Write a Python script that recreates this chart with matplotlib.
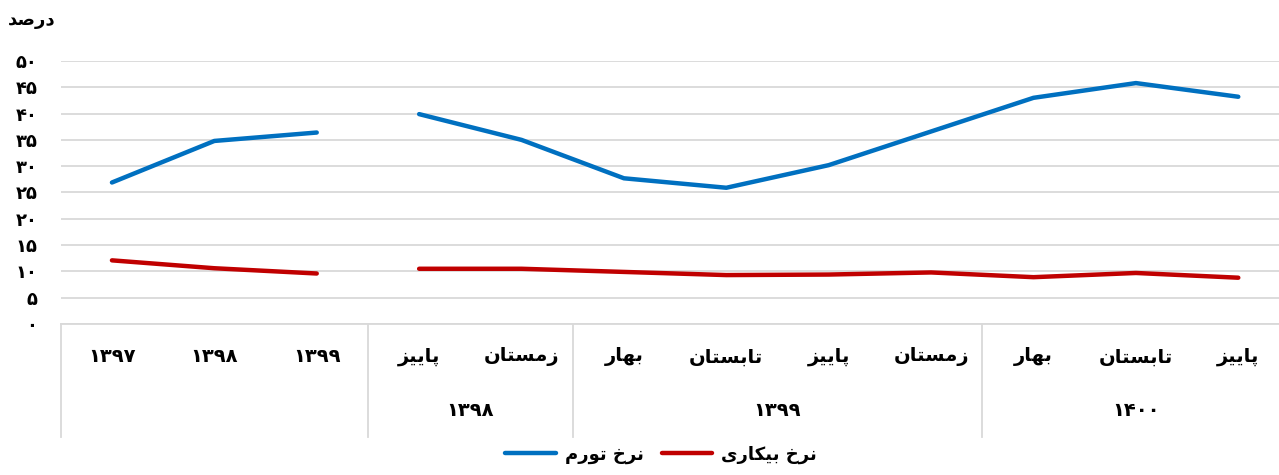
import matplotlib
matplotlib.use("Agg")
import matplotlib.pyplot as plt
from matplotlib.lines import Line2D

# data
annual_labels = ["1397", "1398", "1399"]
season_labels = ["پاییز", "زمستان", "بهار", "تابستان", "پاییز", "زمستان", "بهار", "تابستان", "پاییز"]
year_groups = [("1398", 3, 4), ("1399", 5, 8), ("1400", 9, 11)]
inflation_annual = [26.9, 34.8, 36.4]
inflation_season = [39.9, 35.0, 27.7, 25.9, 30.2, 36.6, 43.0, 45.8, 43.2]
unemployment_annual = [12.1, 10.6, 9.6]
unemployment_season = [10.5, 10.5, 9.9, 9.3, 9.4, 9.8, 8.9, 9.7, 8.8]
y_ticks = [0, 5, 10, 15, 20, 25, 30, 35, 40, 45, 50]
series_names = ["نرخ تورم", "نرخ بیکاری"]
y_title = "درصد"

BLUE = "#0070C0"
RED = "#C00000"
GRID = "#D9D9D9"

# matplotlib does no arabic shaping, so pick presentation forms by hand
FORMS = {
    "ا": ("\uFE8D", "\uFE8E", None, None),
    "ب": ("\uFE8F", "\uFE90", "\uFE91", "\uFE92"),
    "پ": ("\uFB56", "\uFB57", "\uFB58", "\uFB59"),
    "ت": ("\uFE95", "\uFE96", "\uFE97", "\uFE98"),
    "خ": ("\uFEA5", "\uFEA6", "\uFEA7", "\uFEA8"),
    "د": ("\uFEA9", "\uFEAA", None, None),
    "ر": ("\uFEAD", "\uFEAE", None, None),
    "ز": ("\uFEAF", "\uFEB0", None, None),
    "س": ("\uFEB1", "\uFEB2", "\uFEB3", "\uFEB4"),
    "ص": ("\uFEB9", "\uFEBA", "\uFEBB", "\uFEBC"),
    "ک": ("\uFB8E", "\uFB8F", "\uFB90", "\uFB91"),
    "م": ("\uFEE1", "\uFEE2", "\uFEE3", "\uFEE4"),
    "ن": ("\uFEE5", "\uFEE6", "\uFEE7", "\uFEE8"),
    "ه": ("\uFEE9", "\uFEEA", "\uFEEB", "\uFEEC"),
    "و": ("\uFEED", "\uFEEE", None, None),
    "ی": ("\uFBFC", "\uFBFD", "\uFBFE", "\uFBFF"),
}


def joins_left(ch):
    return ch in FORMS and FORMS[ch][2] is not None


def fa(text):
    out = []
    for i, ch in enumerate(text):
        if ch not in FORMS:
            out.append(ch)
            continue
        prev = text[i - 1] if i > 0 else ""
        nxt = text[i + 1] if i + 1 < len(text) else ""
        p = joins_left(prev)
        n = joins_left(ch) and nxt in FORMS
        iso, fin, ini, med = FORMS[ch]
        if p and n:
            out.append(med)
        elif n:
            out.append(ini)
        elif p:
            out.append(fin)
        else:
            out.append(iso)
    return "".join(reversed(out))


DIGITS = str.maketrans("0123456789", "۰۱۲۳۴۵۶۷۸۹")


def fa_num(s):
    return str(s).translate(DIGITS)


plt.rcParams["font.family"] = ["DejaVu Sans"]
plt.rcParams["font.weight"] = "bold"

fig = plt.figure(figsize=(12.79, 4.75), dpi=100)
ax = fig.add_axes([0.0475, 0.3179, 0.9607, 0.5537])

n_a = len(annual_labels)
xa = list(range(n_a))
xs = list(range(n_a, n_a + len(season_labels)))

l1, = ax.plot(xa, inflation_annual, color=BLUE, lw=3.2, solid_capstyle="round")
ax.plot(xs, inflation_season, color=BLUE, lw=3.2, solid_capstyle="round")
l2, = ax.plot(xa, unemployment_annual, color=RED, lw=3.2, solid_capstyle="round")
ax.plot(xs, unemployment_season, color=RED, lw=3.2, solid_capstyle="round")

ax.set_xlim(-0.5, n_a + len(season_labels) - 0.5)
ax.set_ylim(0, 50)
ax.set_yticks(y_ticks, [fa_num(v) for v in y_ticks], fontsize=13, fontweight="bold")
ax.set_xticks([])
ax.tick_params(axis="y", length=0, pad=17)
ax.yaxis.grid(True, color=GRID, lw=1.3)
ax.set_axisbelow(True)
for s in ["top", "right", "left"]:
    ax.spines[s].set_visible(False)
ax.spines["bottom"].set_color(GRID)
ax.spines["bottom"].set_linewidth(1.3)

trans = ax.get_xaxis_transform()
for x, lab in zip(xa, annual_labels):
    ax.text(x, -0.125, fa_num(lab), transform=trans, ha="center", va="center",
            fontsize=14, fontweight="bold")
for x, lab in zip(xs, season_labels):
    ax.text(x, -0.125, fa(lab), transform=trans, ha="center", va="center",
            fontsize=14, fontweight="bold")
for lab, a, b in year_groups:
    ax.text((a + b) / 2, -0.33, fa_num(lab), transform=trans, ha="center", va="center",
            fontsize=14, fontweight="bold")

for xb in [-0.5, n_a - 0.5] + [b + 0.5 for _, _, b in year_groups]:
    ax.add_line(Line2D([xb, xb], [0, -0.43], transform=trans, color=GRID, lw=1.3,
                       clip_on=False))

fig.text(8 / 1279, 1 - 20 / 475, fa(y_title), ha="left", va="center", fontsize=13,
         fontweight="bold")

fig.legend([l1, l2], [fa(t) for t in series_names], loc="lower center",
           bbox_to_anchor=(0.517, -0.01), ncol=2, frameon=False, handlelength=2.8,
           columnspacing=1.0, handletextpad=0.5, prop={"size": 13, "weight": "bold"})

fig.savefig("out.png", dpi=100)
